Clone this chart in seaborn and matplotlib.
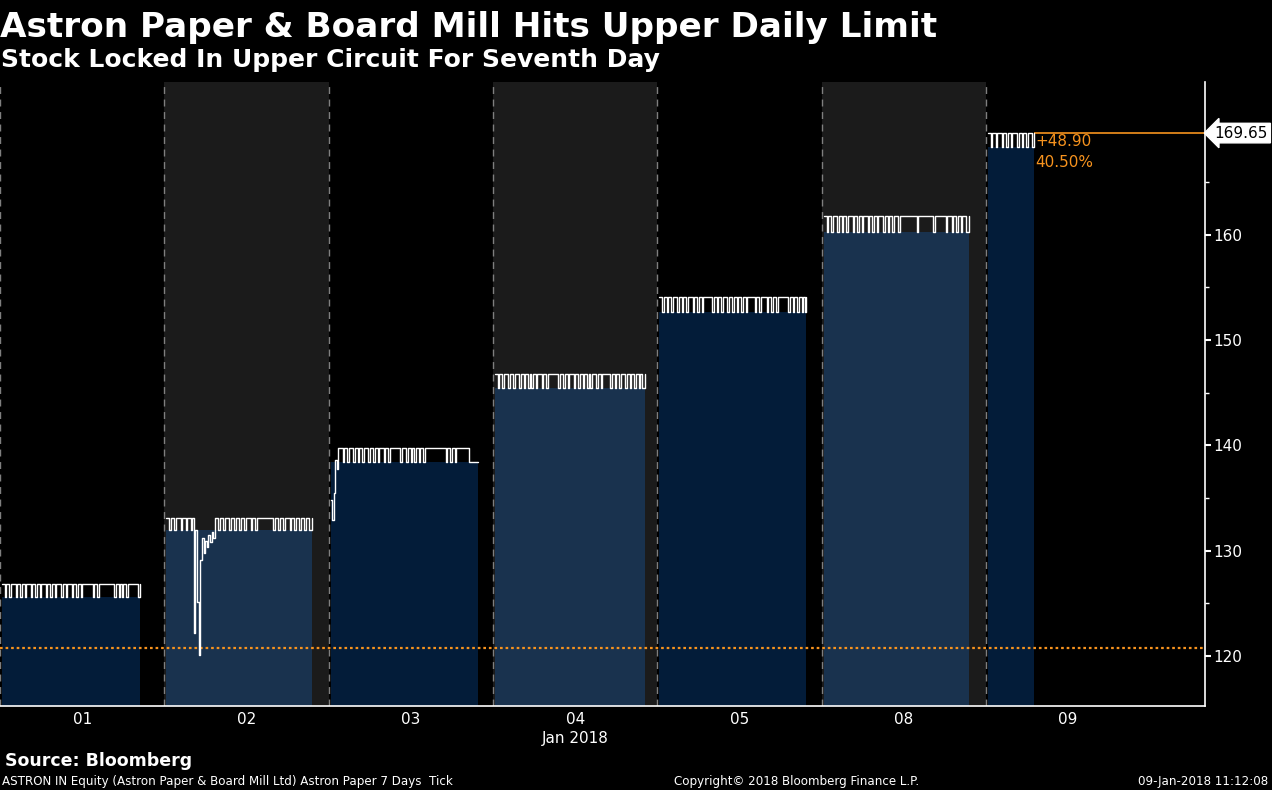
import matplotlib
matplotlib.use('Agg')
import matplotlib.pyplot as plt
import seaborn as sns
import numpy as np
import pandas as pd

# --- data ---
day_labels = ['01', '02', '03', '04', '05', '08', '09']
upper_limit = [126.80, 133.10, 139.75, 146.75, 154.05, 161.75, 169.65]
dip_level = [125.60, 131.95, 138.45, 145.45, 152.65, 160.25, 168.35]
shaded_days = ['02', '04', '08']

# each day slot spans 09:00 - 16:00 (hours)
slot_start = 9.0
slot_end = 16.0
session_open = 9.08
session_close = [14.96, 15.30, 15.35, 15.47, 15.35, 15.26, 11.04]

# tick patterns: 1 = trade at upper limit, 0 = trade at the dip level
pattern_01 = ("11011011101101101110110110111011011011101101110110110"
              "1111111" "0" "11011" "11111111" "011010110" "1111111" "01")
pattern_02a = "11011011101101101"
day02_break = [122.2, 132.0, 125.1, 120.1, 129.1, 131.2, 129.8, 130.9, 130.3, 131.5,
               130.8, 131.8, 131.2]
pattern_02b = ("11011011101101101101110110111" "1111111" "01101101110110110110" "11001")
day03_open = [134.8, 132.9, 135.5, 138.6, 137.8, 139.75]
pattern_03 = ("1101101110110110111011011011101101" "1111110111" "0110101101101"
              "1111111111111" "0110110" "11111111" "0000000")
pattern_04 = ("1101101110110111011011010110111011011111110110110111011011011010"
              "111011011111011011011101101101101001")
pattern_05 = ("1101101101110110110111011011011" "1111" "011011011101101101" "1011011"
              "11101101111" "011011011" "11111" "0110110110101")
pattern_08 = ("110110111011011011101101101110110110111011011011101"
              "111111111101111111111011111110111" "011011011001")
pattern_09 = "1101101110110110111011011011101"

prev_close = 120.75
last_price = 169.65
net_change = 48.90
pct_change = 40.50


def decode(pattern, hi, lo):
    return [hi if c == '1' else lo for c in pattern]


day_prices = [
    decode(pattern_01, upper_limit[0], dip_level[0]),
    decode(pattern_02a, upper_limit[1], dip_level[1]) + day02_break
    + decode(pattern_02b, upper_limit[1], dip_level[1]),
    day03_open + decode(pattern_03, upper_limit[2], dip_level[2]),
    decode(pattern_04, upper_limit[3], dip_level[3]),
    decode(pattern_05, upper_limit[4], dip_level[4]),
    decode(pattern_08, upper_limit[5], dip_level[5]),
    decode(pattern_09, upper_limit[6], dip_level[6]),
]

slot_len = slot_end - slot_start
rows = []
for i, prices in enumerate(day_prices):
    t = np.linspace(session_open, session_close[i], len(prices))
    for tt, p in zip(t, prices):
        rows.append({'day': day_labels[i], 'x': i + (tt - slot_start) / slot_len, 'price': p})
ticks = pd.DataFrame(rows)

# --- style ---
sns.set_theme(style='dark', rc={'axes.facecolor': 'black', 'figure.facecolor': 'black',
                                'savefig.facecolor': 'black'})
plt.rcParams['font.family'] = ['DejaVu Sans']

orange = '#f7931e'
ymin, ymax = 115.25, 174.5

fig = plt.figure(figsize=(12.72, 7.90), dpi=100)
ax = fig.add_axes([0, 1 - 706 / 790, 1205 / 1272, (706 - 82) / 790])
ax.set_facecolor('black')
ax.set_xlim(0, 7.333)
ax.set_ylim(ymin, ymax)

# alternating day shading and dashed separators
for i, d in enumerate(day_labels):
    if d in shaded_days:
        ax.axvspan(i, i + 1, color='#1b1b1b', lw=0, zorder=0)
    ax.axvline(i, color='#7f7f7f', lw=1, ls=(0, (5, 4)), zorder=1)

# session fills
for i, d in enumerate(day_labels):
    x0 = i + (session_open - slot_start) / slot_len
    x1 = i + (session_close[i] - slot_start) / slot_len
    fc = '#19324e' if d in shaded_days else '#031c39'
    ax.fill_between([x0, x1], ymin, dip_level[i], color=fc, lw=0, zorder=2)

# tick line
sns.lineplot(data=ticks, x='x', y='price', units='day', estimator=None, color='white',
             lw=1, drawstyle='steps-post', ax=ax, zorder=4, legend=False)

# previous close and last price
ax.axhline(prev_close, color=orange, lw=1.6, ls=(0, (1.2, 1.3)), zorder=3)
x_last = 6 + (session_close[-1] - slot_start) / slot_len
ax.hlines(last_price, x_last, 7.333, color=orange, lw=1.2, zorder=3)
ax.text(x_last + 0.01, last_price - 0.8, f'+{net_change:.2f}', color=orange, fontsize=11,
        va='center', ha='left')
ax.text(x_last + 0.01, last_price - 2.8, f'{pct_change:.2f}%', color=orange, fontsize=11,
        va='center', ha='left')
ax.annotate(f'{last_price:.2f}', xy=(1, last_price), xycoords=ax.get_yaxis_transform(),
            xytext=(7, 0), textcoords='offset points', va='center', ha='left',
            fontsize=11, color='black', annotation_clip=False,
            bbox=dict(boxstyle='larrow,pad=0.15', fc='white', ec='white'))

# axes
for s in ['left', 'top']:
    ax.spines[s].set_visible(False)
for s in ['right', 'bottom']:
    ax.spines[s].set_color('white')
    ax.spines[s].set_linewidth(1.2)
ax.yaxis.tick_right()
ax.set_yticks([120, 130, 140, 150, 160])
ax.set_yticks([125, 135, 145, 155, 165], minor=True)
ax.tick_params(axis='y', which='major', colors='white', labelsize=11, length=4, width=1.5,
               direction='out', pad=2)
ax.tick_params(axis='y', which='minor', colors='white', length=3, width=1, direction='out')
ax.set_xticks([i + 0.5 for i in range(len(day_labels))])
ax.set_xticklabels(day_labels)
ax.tick_params(axis='x', colors='white', labelsize=11, length=0, pad=4)
ax.set_xlabel('')
ax.set_ylabel('')
ax.grid(False)

# texts
fig.text(0.5 / 1272, 1 - 37 / 790, 'Astron Paper & Board Mill Hits Upper Daily Limit',
         color='white', fontsize=24.7, fontweight='bold', va='baseline', ha='left')
fig.text(1 / 1272, 1 - 67 / 790, 'Stock Locked In Upper Circuit For Seventh Day',
         color='white', fontsize=18, fontweight='bold', va='baseline', ha='left')
fig.text(575 / 1272, 1 - 738 / 790, 'Jan 2018', color='white', fontsize=11,
         va='center', ha='center')
fig.text(5 / 1272, 1 - 761 / 790, 'Source: Bloomberg', color='white', fontsize=12.5,
         fontweight='bold', va='center', ha='left')
fig.text(2 / 1272, 1 - 781 / 790,
         'ASTRON IN Equity (Astron Paper & Board Mill Ltd) Astron Paper 7 Days  Tick',
         color='white', fontsize=8.6, va='center', ha='left')
fig.text(797 / 1272, 1 - 781 / 790, 'Copyright\u00a9 2018 Bloomberg Finance L.P.',
         color='white', fontsize=8.6, va='center', ha='center')
fig.text(1268 / 1272, 1 - 781 / 790, '09-Jan-2018 11:12:08', color='white', fontsize=8.6,
         va='center', ha='right')

fig.savefig('out.png', dpi=100, facecolor='black')
